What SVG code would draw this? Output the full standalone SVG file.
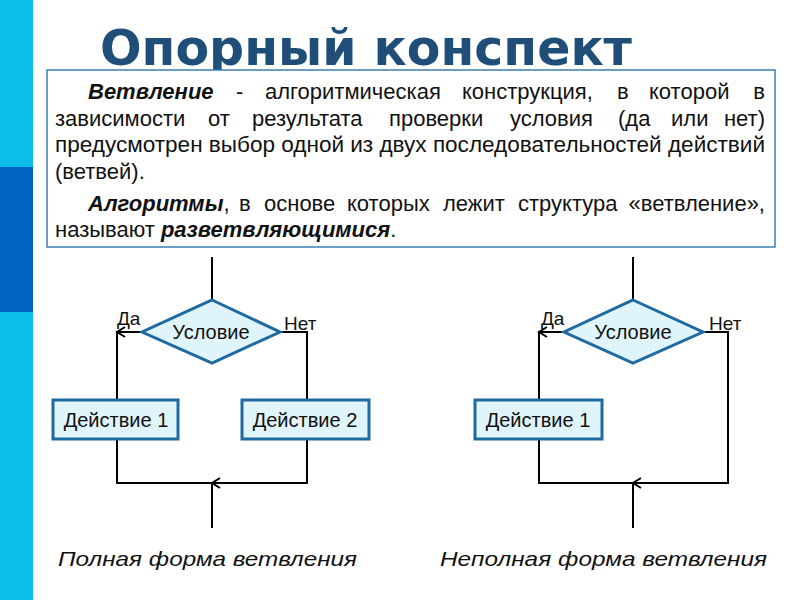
<svg xmlns="http://www.w3.org/2000/svg" width="800" height="600" viewBox="0 0 800 600">
<style>
.t{font-family:"Liberation Sans",Arial,sans-serif;font-size:22px;fill:#111}
.bi{font-weight:bold;font-style:italic}
.lbl{font-family:"Liberation Sans",Arial,sans-serif;font-size:19px;fill:#111}
.nl{font-family:"Liberation Sans",Arial,sans-serif;font-size:20px;fill:#111}
.cap{font-family:"Liberation Sans",Arial,sans-serif;font-size:21px;font-style:italic;fill:#111}
.node{fill:#e0f4fb;stroke:#1f6aa0;stroke-width:3}
.ln{fill:none;stroke:#000;stroke-width:2}
</style>
<rect width="800" height="600" fill="#fff"/>
<rect x="0" y="0" width="33" height="600" fill="#0bbdea"/>
<rect x="0" y="167" width="33" height="145" fill="#0062c2"/>
<text x="100" y="65" font-family="DejaVu Sans,sans-serif" font-weight="bold" font-size="50" fill="#1f4e79" textLength="532" lengthAdjust="spacingAndGlyphs">Опорный конспект</text>
<g id="definition">
<rect x="47" y="70" width="728" height="177" fill="#fff" stroke="#3a7fb5" stroke-width="1.5"/>
<text class="t" y="99"><tspan class="bi" x="88">Ветвление</tspan><tspan x="236">-</tspan><tspan x="265">алгоритмическая</tspan><tspan x="462">конструкция,</tspan><tspan x="617">в</tspan><tspan x="649">которой</tspan></text>
<text class="t" x="765" y="99" text-anchor="end">в</text>
<text class="t" y="126"><tspan x="55">зависимости</tspan><tspan x="208">от</tspan><tspan x="252">результата</tspan><tspan x="389">проверки</tspan><tspan x="510">условия</tspan><tspan x="618">(да</tspan><tspan x="671">или</tspan></text>
<text class="t" x="765" y="126" text-anchor="end">нет)</text>
<text class="t" x="55" y="152" textLength="710" lengthAdjust="spacingAndGlyphs">предусмотрен выбор одной из двух последовательностей действий</text>
<text class="t" x="55" y="179">(ветвей).</text>
<text class="t" y="211"><tspan class="bi" x="88">Алгоритмы</tspan>,<tspan x="239">в</tspan><tspan x="264">основе</tspan><tspan x="347">которых</tspan><tspan x="443">лежит</tspan><tspan x="518">структура</tspan></text>
<text class="t" x="765" y="211" text-anchor="end">«ветвление»,</text>
<text class="t" x="55" y="237">называют <tspan class="bi">разветвляющимися</tspan>.</text>
</g>
<g id="connectors">
<path class="ln" d="M212 257V300M142 332H117V400M280 332H307V400M117 439V483H307V439M212 483V528"/>
<path class="ln" d="M125 327L117 332L125 337M220 478L212 483L220 488"/>
<path class="ln" d="M633 257V300M564 332H539V400M703 332H728V483H539V439M633 483V528"/>
<path class="ln" d="M547 327L539 332L547 337M641 478L633 483L641 488"/>
</g>
<g id="cond1">
<polygon class="node" points="212,300 280,332 212,363 142,332"/>
<text class="nl" x="211" y="339" text-anchor="middle">Условие</text>
</g>
<g id="act1">
<rect class="node" x="53" y="400" width="125" height="39"/>
<text class="nl" x="116" y="427" text-anchor="middle">Действие 1</text>
</g>
<g id="act2">
<rect class="node" x="242" y="400" width="127" height="39"/>
<text class="nl" x="305" y="427" text-anchor="middle">Действие 2</text>
</g>
<g id="cond2">
<polygon class="node" points="633,300 703,332 633,363 564,332"/>
<text class="nl" x="633" y="339" text-anchor="middle">Условие</text>
</g>
<g id="act3">
<rect class="node" x="475" y="400" width="127" height="39"/>
<text class="nl" x="538" y="427" text-anchor="middle">Действие 1</text>
</g>
<g id="labels">
<text class="lbl" x="117" y="325">Да</text>
<text class="lbl" x="284" y="330">Нет</text>
<text class="lbl" x="541" y="325">Да</text>
<text class="lbl" x="709" y="330">Нет</text>
<text class="cap" x="58" y="566" textLength="299" lengthAdjust="spacingAndGlyphs">Полная форма ветвления</text>
<text class="cap" x="440" y="566" textLength="327" lengthAdjust="spacingAndGlyphs">Неполная форма ветвления</text>
</g>
</svg>
